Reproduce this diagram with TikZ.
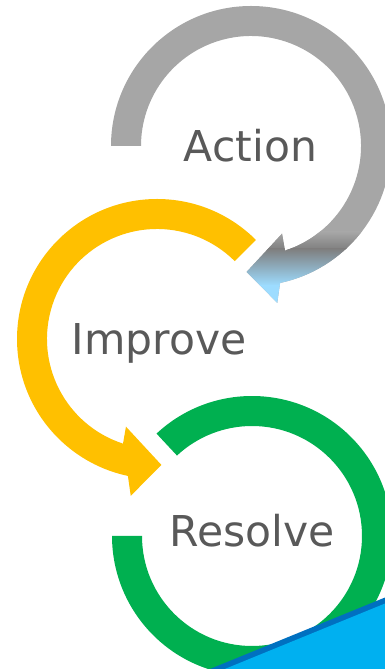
\documentclass[tikz,border=0pt]{standalone}
\usepackage{fontspec}
\setmainfont{DejaVu Sans}
\usetikzlibrary{calc}
\definecolor{ringgray}{HTML}{A6A6A6}
\definecolor{darkgraymid}{HTML}{7F7F7F}
\definecolor{lightbluetip}{HTML}{9DDCFF}
\definecolor{ringyellow}{HTML}{FFC000}
\definecolor{ringgreen}{HTML}{00B050}
\definecolor{bluefill}{HTML}{00B0F0}
\definecolor{blueedge}{HTML}{0070C0}
\definecolor{textgray}{HTML}{595959}
\begin{document}
\begin{tikzpicture}[x=1pt,y=1pt,
  ringlabel/.style={font=\fontsize{42.5}{50}\selectfont, text=textgray, anchor=base, inner sep=0pt}]
\clip (0,0) rectangle (385,669);
\coordinate (G) at (251,523);
\coordinate (Y) at (157,330);
\coordinate (N) at (252,133);
% gray arrow
\fill[ringgray] ([shift={(180:140)}]G) arc[start angle=180,end angle=-78,radius=140]
  -- ([shift={(-80.5:159)}]G) -- ([shift={(-92:126)}]G) -- ([shift={(-70.5:93)}]G)
  -- ([shift={(-72:110)}]G) arc[start angle=-72,end angle=180,radius=110] -- cycle;
\begin{scope}
\clip ([shift={(180:140)}]G) arc[start angle=180,end angle=-78,radius=140]
  -- ([shift={(-80.5:159)}]G) -- ([shift={(-92:126)}]G) -- ([shift={(-70.5:93)}]G)
  -- ([shift={(-72:110)}]G) arc[start angle=-72,end angle=180,radius=110] -- cycle;
\shade[top color=ringgray, bottom color=darkgraymid] (230,419.5) rectangle (400,437);
\shade[top color=darkgraymid, bottom color=lightbluetip] (230,383.5) rectangle (400,420);
\fill[lightbluetip] (230,340) rectangle (400,384);
\end{scope}
% yellow arrow
\fill[ringyellow] ([shift={(45:140)}]Y) arc[start angle=45,end angle=258,radius=140]
  -- ([shift={(260.5:159)}]Y) -- ([shift={(272:126)}]Y) -- ([shift={(250.5:93)}]Y)
  -- ([shift={(252:110)}]Y) arc[start angle=252,end angle=45,radius=110] -- cycle;
% green ring
\fill[ringgreen] ([shift={(133:140)}]N) arc[start angle=133,end angle=-180,radius=140]
  -- ([shift={(180:110)}]N) arc[start angle=-180,end angle=133,radius=110] -- cycle;
% blue corner
\fill[blueedge] (385,71.5) -- (210,0) -- (385,0) -- cycle;
\fill[bluefill] (385,65.5) -- (224.8,0) -- (385,0) -- cycle;
% labels
\node[ringlabel] (action) at (250.5,507) {Action};
\node[ringlabel] (improve) at (159,314) {Improve};
\node[ringlabel] (resolve) at (252,122) {Resolve};
\end{tikzpicture}
\end{document}
